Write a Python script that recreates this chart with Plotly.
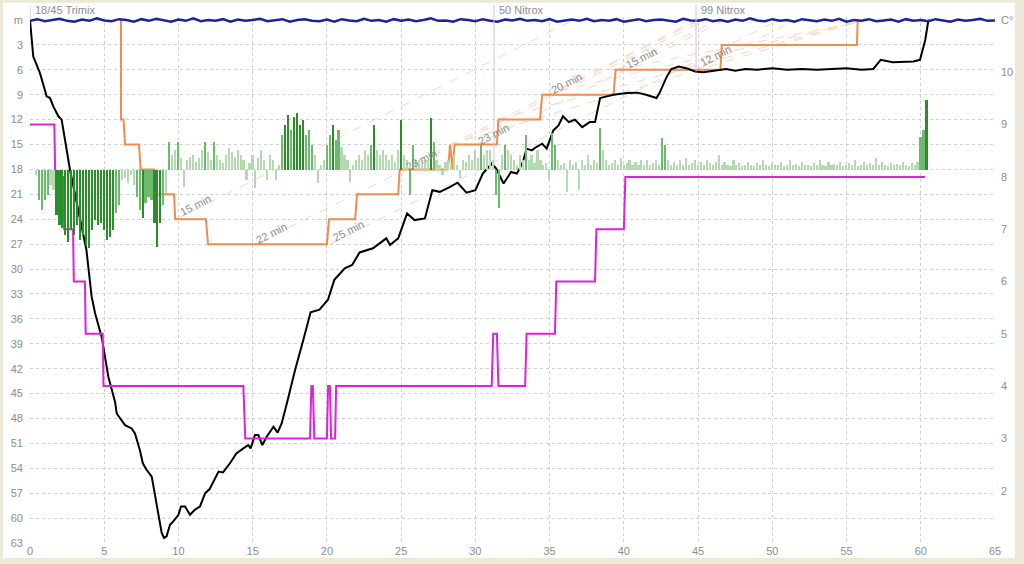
import plotly.graph_objects as go

# ---------------- data ----------------
# depth profile (minutes, metres)
depth_t = [0, 0.07, 0.11, 0.22, 0.45, 0.67, 0.9, 1.12, 1.35, 1.57, 1.91, 2.13, 2.7, 3.37, 3.8,
           4.15, 4.38, 4.83, 5.28, 5.73, 5.84, 6.4, 6.85, 7.07, 7.4, 7.6, 7.86, 8.2, 8.4, 8.64,
           8.87, 9.03, 9.2, 9.43, 9.65, 10.0, 10.17, 10.44, 10.78, 11.1, 11.45, 11.8, 12.1, 12.7,
           13.0, 13.47, 13.9, 14.37, 14.7, 14.86, 15.15, 15.38, 15.65, 15.94, 16.4, 16.68, 16.95,
           17.3, 17.85, 18.4, 18.9, 19.5, 20.07, 20.5, 21.2, 21.7, 22.2, 23.1, 24.0, 24.25, 24.8,
           25.4, 25.9, 26.6, 27.1, 27.6, 28.2, 28.8, 29.4, 30.0, 30.5, 31.1, 31.4, 31.9, 32.2,
           32.4, 32.8, 33.2, 33.45, 33.8, 34.1, 34.5, 34.8, 35.25, 35.6, 35.9, 36.3, 36.7, 37.2,
           37.7, 38.06, 38.4, 38.85, 39.3, 40.2, 40.9, 41.5, 42.2, 42.4, 42.9, 43.2, 43.7, 44.2,
           44.8, 45.35, 46.0, 46.9, 47.5, 48.2, 49.0, 50.0, 51.0, 52.0, 53.0, 54.0, 55.0, 56.0,
           56.8, 57.3, 58.1, 59.5, 59.95, 60.3, 60.5, 60.6]
depth_m = [0, 1.5, 1.6, 4.4, 5.4, 6.4, 7.8, 9.2, 9.4, 10.4, 11.6, 12.0, 18.1, 24.1, 27.7,
           33.3, 35.3, 38.2, 43.0, 46.0, 47.4, 48.8, 49.2, 49.8, 51.8, 53.4, 54.2, 55.0, 57.0, 59.8,
           61.8, 62.4, 62.2, 60.8, 60.4, 59.6, 58.6, 58.6, 59.6, 59.0, 58.6, 57.0, 56.5, 54.4,
           54.5, 53.4, 52.2, 51.6, 51.2, 51.6, 50.0, 50.0, 51.2, 50.2, 49.0, 49.7, 48.6,
           46.2, 42.2, 38.6, 35.2, 34.9, 33.7, 31.3, 29.9, 29.5, 28.0, 27.5, 26.3, 27.1, 26.3,
           23.3, 24.1, 23.9, 20.5, 20.7, 20.2, 19.6, 20.8, 20.5, 18.5, 17.3, 17.9, 19.7, 18.9,
           18.3, 18.5, 17.1, 15.5, 15.7, 15.3, 14.9, 15.5, 13.3, 12.7, 11.6, 12.3, 12.0, 12.9,
           12.3, 12.3, 9.4, 9.2, 9.0, 8.8, 8.75, 9.0, 9.4, 8.8, 6.8, 5.9, 5.6, 5.8,
           6.2, 6.3, 6.1, 5.9, 6.1, 5.9, 6.0, 5.8, 6.0, 5.9, 6.0, 5.9, 5.8, 6.0,
           5.9, 4.8, 5.1, 5.0, 4.8, 2.4, 0.2, 0]

# deco ceiling (minutes, metres)
ceil_t = [6.13, 6.13, 6.3, 6.4, 7.34, 7.45, 8.35, 8.45, 9.7, 9.78, 11.85, 11.99, 20.0, 20.14,
          21.9, 22.03, 24.8, 24.9, 28.15, 28.3, 28.45, 28.6, 31.45, 31.55, 34.35, 34.5, 39.3,
          39.45, 46.5, 46.6, 55.7, 55.75]
ceil_m = [0, 12, 12, 15, 15, 18, 18, 21, 21, 24, 24, 27, 27, 24,
          24, 21, 21, 18, 18, 15, 18, 15, 15, 12, 12, 9, 9,
          6, 6, 3, 3, 0]

# temperature (minutes, deg C)
temp_t = [0, 1.64, 1.7, 2.25, 2.3, 2.9, 2.95, 3.7, 3.75, 4.9, 4.95, 14.37, 14.5, 18.86,
          18.95, 19.05, 19.15, 20.0, 20.08, 20.2, 20.28, 20.55, 20.62, 31.1, 31.2, 31.45,
          31.55, 33.35, 33.45, 35.36, 35.45, 38.06, 38.15, 40.0, 40.1, 60.3]
temp_c = [9, 9, 8, 8, 7, 7, 6, 6, 5, 5, 4, 4, 3, 3,
          4, 4, 3, 3, 4, 4, 3, 3, 4, 4, 5, 5,
          4, 4, 5, 5, 6, 6, 7, 7, 8, 8]

# surface reference line (every 0.5 min from 0 to 65)
surf_t0, surf_dt = 0.0, 0.5
surf_m = [0.1, -0.1, 0.15, 0.0, -0.15, 0.1, 0.2, -0.05, 0.1, -0.2,
          0.05, 0.15, -0.1, 0.0, 0.2, -0.1, 0.1, -0.15, 0.05, 0.2,
          -0.05, 0.1, -0.2, 0.15, 0.0, 0.1, -0.1, 0.2, -0.05, 0.1,
          0.0, -0.15, 0.15, 0.05, -0.1, 0.2, 0.0, -0.1, 0.1, 0.15,
          -0.05, 0.2, -0.1, 0.05, 0.15, -0.15, 0.1, 0.0, 0.2, -0.1,
          0.1, -0.05, 0.15, 0.0, -0.2, 0.1, 0.05, 0.2, -0.1, 0.0,
          0.15, -0.1, 0.1, 0.2, -0.05, 0.05, -0.15, 0.1, 0.0, 0.15,
          -0.1, 0.2, 0.05, -0.05, 0.1, -0.15, 0.15, 0.0, 0.1, -0.1,
          0.2, 0.05, -0.1, 0.15, 0.0, -0.05, 0.1, 0.2, -0.15, 0.05,
          0.1, -0.1, 0.15, 0.0, 0.2, -0.05, 0.1, -0.2, 0.05, 0.15,
          -0.1, 0.1, 0.0, 0.2, -0.1, 0.05, 0.15, -0.05, 0.1, -0.15,
          0.2, 0.0, 0.1, -0.1, 0.15, 0.05, -0.05, 0.2, -0.1, 0.1,
          0.0, 0.15, -0.1, 0.05, 0.2, -0.05, 0.1, 0.0, -0.15, 0.1, 0.05]

# vertical speed bars (every 0.2 min from 0.4), m/min, + = ascent
rate_t0, rate_dt = 0.4, 0.2
rate = [-1, -6, -8, -6, -5, -3, -4, -9, -11, -11.6,
        -13, -14.4, -12, -13, -11, -14, -13, -15, -15.6, -12,
        -10, -11, -10.6, -12, -14, -13.4, -12, -8.6, -7, -2,
        -1.5, -2.6, -1, -3, -5.4, -8, -9.6, -6.6, -5.4, -6,
        -10.6, -15.4, -10.6, -7, -4.6, 5.6, 3, 4, 5.6, 2.4,
        -3.4, 2, 2.6, 3, 1.6, 2.4, 4, 5.6, 3.6, 2,
        5.6, 3, 2, 1.5, 3, 4.4, 3.6, 2.6, 4, 3,
        2, -2, 1.5, 3, -3.6, 2.4, 4, 2, -2, 3,
        2, -2, 1, 7, 9, 11, 8, 10.6, 11.4, 9,
        10, 7, 8, 5, 3, -2.6, 1, 2, 5, 7,
        9, 6, 8, 4.6, 3, 2, -2.4, 1, 2, 3,
        2, 4, 3, 5, 9, 4, 3, 4, 3, 2,
        3, 1.6, 4, 10, 3, 2, -5, 5, 2, 2,
        1.5, 2, 2, 10.4, 5.6, 2, 1, -1, 1.6, 2,
        1, 3, 1, -1.5, 2, 1.6, 3, 2, 4, 2.4,
        5, 3, 4, 4, 2, -5, -7.6, 3, 5, 4,
        3, 2, 1, 3, 2, 7, 2, 3, 1.5, 4,
        2, 1, 1.5, -2, 7.4, 5, 2, 1, 1.5, -4.4,
        2, 1, 1.6, -4, 2, 1, 3, 1, 2, 1.5,
        8.4, 4, 2, 1, 1.5, 2, 1, 2.4, 1, 1.5,
        2, 1, 1.6, 1, 2, 1, 2, 1, 1.5, 2,
        1, 6.4, 5, 2, 1, 1.6, 1, 2, 1, 2.4,
        1, 1.5, 2, 1, 1.6, 1, 2, 1.4, 1, 1.6,
        3, 1, 1.6, 1, 0.8, 2, 1, 1.4, 0.8, 1,
        1.6, 1, 0.8, 1.4, 1, 2, 1, 0.8, 1.4, 1,
        1, 1.6, 0.8, 1, 2, 1, 1.2, 0.8, 1.6, 1,
        1, 0.8, 1.4, 1, 2, 1, 0.8, 1.6, 1, 1.2,
        1, 1.6, 0.8, 1, 1.4, 1, 2, 0.8, 1, 1.6,
        1, 1.4, 1, 2.4, 1, 1.6, 1, 0.8, 1.4, 1,
        1.2, 1, 1.6, 1, 0.8, 1.4, 1, 1.6, 6.6, 8,
        14]

# gas switches
gas_names = ["18/45 Trimix", "50 Nitrox", "99 Nitrox"]
gas_t = [0, 31.25, 44.86]
gas_m = [0, 17.4, 6.2]

# stop guide lines (start t, start m, end t, end m) and their labels
guide_t0 = [9.83, 15.16, 20.2, 24.9, 30.0, 34.7, 39.6, 44.9, 28.3, 31.5, 34.5, 39.5]
guide_m0 = [24, 27, 27, 18.07, 15.06, 9.16, 6.0, 6.0, 15, 12, 9, 6]
guide_t1 = [36.6, 45.5, 50.4, 45.1, 46.8, 44.9, 46.3, 51.6, 55.6, 55.6, 55.6, 55.6]
guide_m1 = [0, 0, 0, 0, 0, 0, 0, 0, 0.3, 0.3, 0.3, 0.3]
guide_labels = ["15 min", "22 min", "25 min", "23 min", "23 min", "20 min", "15 min", "12 min"]
label_t = [11.18, 16.3, 21.42, 26.34, 31.25, 36.17, 41.16, 46.14]
label_m = [22.3, 25.7, 25.4, 16.9, 13.7, 7.6, 4.6, 4.3]

depth_ticks = list(range(0, 64, 3))
depth_ticktext = ["m"] + [str(v) for v in depth_ticks[1:]]
temp_ticks = list(range(2, 12))
temp_ticktext = [str(v) for v in temp_ticks[:-1]] + ["C°"]
time_ticks = list(range(0, 66, 5))

# ---------------- figure ----------------
GRID = "#cfcfcf"
TXT = "#8c8c8c"
FONT = "Liberation Sans"

fig = go.Figure()

rate_times = [rate_t0 + i * rate_dt for i in range(len(rate))]
bar_colors = ["#2a8f2a" if abs(v) >= 9 else ("#6db96d" if abs(v) >= 5 else "#b5dab1") for v in rate]
fig.add_trace(go.Bar(x=rate_times, y=rate, yaxis="y3", width=0.11,
                     marker=dict(color=bar_colors, line=dict(width=0)), hoverinfo="skip"))

for i in range(len(guide_t0)):
    fig.add_trace(go.Scatter(x=[guide_t0[i], guide_t1[i]], y=[guide_m0[i], guide_m1[i]],
                             mode="lines", line=dict(color="#fad6be", width=1, dash="dash"),
                             hoverinfo="skip"))

fig.add_trace(go.Scatter(x=ceil_t, y=ceil_m, mode="lines",
                         line=dict(color="#f08c4e", width=2)))
fig.add_trace(go.Scatter(x=temp_t, y=temp_c, yaxis="y2", mode="lines",
                         line=dict(color="#dd22dd", width=2)))
fig.add_trace(go.Scatter(x=depth_t, y=depth_m, mode="lines",
                         line=dict(color="#000000", width=2)))
surf_times = [surf_t0 + i * surf_dt for i in range(len(surf_m))]
fig.add_trace(go.Scatter(x=surf_times, y=surf_m, mode="lines",
                         line=dict(color="#1a239a", width=2.5)))

shapes = []
annotations = []
for name, t, m in zip(gas_names, gas_t, gas_m):
    shapes.append(dict(type="line", xref="x", yref="y", x0=t, x1=t, y0=-0.36, y1=m,
                       line=dict(color="#e8b6f0", width=1)))
    shapes.append(dict(type="line", xref="x", yref="paper", x0=t, x1=t, y0=1, y1=1.023,
                       line=dict(color="#e8b6f0", width=1)))
    annotations.append(dict(x=t, y=1, xref="x", yref="paper", text=name, showarrow=False,
                            xanchor="left", yanchor="bottom", xshift=3, yshift=-1,
                            font=dict(family=FONT, size=11, color=TXT)))

for txt, t, m in zip(guide_labels, label_t, label_m):
    annotations.append(dict(x=t, y=m, xref="x", yref="y", text=txt, showarrow=False,
                            textangle=-27, font=dict(family=FONT, size=11, color="#8a8a8a")))

# white panel on beige background
shapes.insert(0, dict(type="rect", xref="paper", yref="paper", x0=-0.028, x1=1.0205,
                      y0=-0.0285, y1=1.027, fillcolor="#ffffff", line=dict(width=0),
                      layer="below"))

fig.update_layout(
    width=1024, height=564, autosize=False,
    margin=dict(l=30, r=29, t=17, b=21, pad=0, autoexpand=False),
    paper_bgcolor="#ede9d9", plot_bgcolor="#ffffff",
    showlegend=False, bargap=0,
    shapes=shapes, annotations=annotations,
    xaxis=dict(range=[0, 65], tickvals=time_ticks, showgrid=True, gridcolor=GRID,
               griddash="3px,3px", gridwidth=1, zeroline=False, showline=False,
               automargin=False,
               ticks="", tickfont=dict(family=FONT, size=11, color=TXT)),
    yaxis=dict(range=[63, -0.361], tickvals=depth_ticks, ticktext=depth_ticktext,
               showgrid=True, gridcolor=GRID, griddash="3px,3px", gridwidth=1,
               zeroline=False, showline=False, ticks="", ticklabelstandoff=6,
               automargin=False,
               tickfont=dict(family=FONT, size=11, color=TXT)),
    yaxis2=dict(range=[1, 11.057], tickvals=temp_ticks, ticktext=temp_ticktext,
                overlaying="y", side="right", showgrid=False, zeroline=False,
                showline=False, ticks="", ticklabelstandoff=5, automargin=False,
                tickfont=dict(family=FONT, size=11, color=TXT)),
    yaxis3=dict(range=[-74.6, 30.6], overlaying="y", visible=False, showgrid=False,
                zeroline=False),
)

fig.write_html("out.html", config={"displayModeBar": False},
               post_script="document.body.style.margin='0';document.body.style.overflow='hidden';")
